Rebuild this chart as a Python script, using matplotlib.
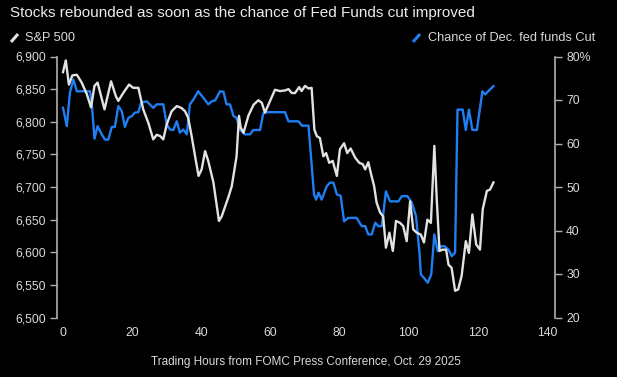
import matplotlib
matplotlib.use("Agg")
import matplotlib.pyplot as plt
from matplotlib.lines import Line2D

# ---- data ----
spx_x = [0, 0.8, 1.7, 2.7, 4, 5.4, 6.9, 8.1, 9.1, 10, 12, 13.9, 15.3, 16, 17.4, 19.1, 20.3,
         21.8, 23.2, 24.7, 26.1, 27.1, 28.1, 29, 30, 31.4, 32.9, 34.3, 35.3, 36.2, 37.2,
         38.2, 39.2, 40.1, 41.1, 42, 43.5, 45.1, 45.9, 47.8, 48.8, 50.2, 50.9, 51.4, 52.2,
         53.6, 55.1, 56.5, 57.5, 58.4, 59.4, 61.3, 62.8, 64.2, 65.2, 66.2, 67.1, 68.3, 69,
         70, 71, 71.9, 72.7, 73.4, 74.3, 75.3, 76.1, 77, 78, 79.2, 80.1, 81.3, 82.2, 83.2,
         84.5, 85.7, 86.7, 87.4, 88.3, 89, 90, 90.7, 91.7, 92.6, 93.4, 94.4, 95.4, 96.3,
         97.5, 98.4, 99.4, 100.4, 101.3, 102.3, 103.5, 104.4, 105.4, 106.4, 107.4, 108.1,
         108.9, 109.8, 110.8, 111.5, 112.4, 113.4, 114.3, 115.3, 116.5, 117.4, 118.4, 119.5,
         120.6, 121.4, 122.6, 123.5, 124.5]
spx_y = [6876, 6894, 6857, 6871, 6872, 6860, 6842, 6822, 6855, 6860, 6819, 6862, 6839,
         6832, 6844, 6857, 6852, 6852, 6819, 6798, 6773, 6780, 6778, 6773, 6796, 6816,
         6824, 6821, 6816, 6806, 6778, 6747, 6717, 6727, 6755, 6740, 6707, 6648, 6655,
         6684, 6701, 6747, 6809, 6791, 6783, 6809, 6826, 6833, 6829, 6814, 6826, 6849,
         6847, 6848, 6850, 6844, 6844, 6853, 6847, 6855, 6851, 6852, 6788, 6778, 6775,
         6747, 6752, 6737, 6740, 6717, 6758, 6767, 6752, 6759, 6745, 6737, 6735, 6727,
         6738, 6722, 6701, 6676, 6661, 6655, 6607, 6630, 6602, 6648, 6645, 6640, 6617,
         6678, 6635, 6630, 6627, 6615, 6650, 6645, 6763, 6681, 6602, 6604, 6604, 6581,
         6576, 6541, 6543, 6564, 6617, 6599, 6658, 6612, 6604, 6666, 6694, 6696, 6707]

cut_x = [0, 1.1, 2, 3, 4, 5.4, 7.8, 8.3, 9.1, 10, 11.2, 12.1, 13.1, 14.1, 15, 16, 17,
         17.9, 18.9, 19.9, 20.8, 21.8, 22.6, 24.2, 26.1, 27.1, 29, 30, 31, 31.9, 32.9,
         33.8, 34.8, 35.8, 36.7, 37.7, 39.1, 40.6, 42, 43, 44, 45.4, 46.4, 47.3, 48.3,
         49.3, 50.2, 51.2, 52.6, 54.1, 55, 57, 57.9, 58.9, 64.2, 65.2, 68.1, 69.1, 71,
         72.6, 73.2, 73.9, 74.8, 76.3, 77.2, 78.2, 79.2, 80.3, 81.3, 82.5, 84.9, 86.4,
         87.4, 88.3, 89.3, 90.3, 91.2, 92.2, 93.4, 94.6, 97, 98, 99.6, 100.9, 102.1,
         103.1, 103.5, 104.4, 105.5, 106.5, 107.4, 108.4, 109.3, 110.3, 111.5, 112.4,
         113.4, 114.1, 115.6, 116.5, 117.4, 118.4, 119.7, 121.3, 122.1, 124.5]
cut_y = [68.2, 64.0, 71.7, 74.7, 72.0, 72.0, 72.0, 69.4, 61.1, 64.0, 62.1, 60.9, 60.9,
         63.8, 63.8, 68.6, 67.4, 63.8, 65.9, 66.3, 67.1, 67.2, 69.4, 69.7, 68.2, 69.0,
         69.0, 64.4, 63.2, 63.1, 65.1, 62.5, 63.2, 62.1, 69.0, 70.1, 72.0, 70.5, 69.0,
         69.7, 69.9, 72.0, 71.9, 69.0, 69.0, 66.3, 65.9, 63.2, 62.1, 62.1, 63.1, 63.1,
         66.9, 67.2, 67.2, 65.1, 65.1, 64.1, 64.1, 48.3, 47.1, 48.7, 47.1, 50.2, 51.0,
         51.0, 48.3, 48.0, 42.1, 42.9, 42.9, 41.0, 41.0, 39.1, 39.1, 41.8, 41.0, 41.0,
         49.0, 46.7, 46.7, 47.9, 47.9, 46.4, 43.3, 34.9, 29.9, 29.1, 28.0, 29.9, 39.1,
         35.2, 36.4, 36.4, 35.6, 34.1, 34.9, 67.8, 67.8, 63.1, 67.8, 63.1, 63.1, 72.0,
         71.3, 73.2]

x_ticks = [0, 20, 40, 60, 80, 100, 120, 140]
left_ticks = [6500, 6550, 6600, 6650, 6700, 6750, 6800, 6850, 6900]
left_labels = ["6,500", "6,550", "6,600", "6,650", "6,700", "6,750", "6,800", "6,850", "6,900"]
right_ticks = [20, 30, 40, 50, 60, 70, 80]
right_labels = ["20", "30", "40", "50", "60", "70", "80%"]

title = "Stocks rebounded as soon as the chance of Fed Funds cut improved"
legend_left = "S&P 500"
legend_right = "Chance of Dec. fed funds Cut"
xlabel = "Trading Hours from FOMC Press Conference, Oct. 29 2025"

# ---- style ----
plt.rcParams['font.family'] = ['Liberation Sans', 'DejaVu Sans']
BG = "#000000"
TXT = "#d9d9d9"
WHITE_LINE = "#e2e2e2"
BLUE = "#1f7ff2"
AXC = "#b0b0b0"

fig = plt.figure(figsize=(6.17, 3.77), dpi=100, facecolor=BG)
ax = fig.add_axes([57/617, 1-317.5/377, (555-57)/617, (317.5-56.5)/377])
ax2 = ax.twinx()
ax.set_facecolor(BG)

ax2.plot(cut_x, cut_y, color=BLUE, lw=1.7)
ax.plot(spx_x, spx_y, color=WHITE_LINE, lw=1.7)
ax.set_zorder(ax2.get_zorder() + 1)
ax.patch.set_visible(False)
fig.patch.set_facecolor(BG)

ax.set_xlim(-1.74, 142.3)
ax.set_ylim(6500, 6900)
ax2.set_ylim(20, 80)

for a in (ax, ax2):
    for s in ("top", "bottom"):
        a.spines[s].set_visible(False)
ax.spines["right"].set_visible(False)
ax2.spines["left"].set_visible(False)
ax.spines["left"].set_color(AXC)
ax2.spines["right"].set_color(AXC)
ax.spines["left"].set_linewidth(1.2)
ax2.spines["right"].set_linewidth(1.2)

ax.set_xticks(x_ticks)
ax.set_xticklabels([str(t) for t in x_ticks])
ax.set_yticks(left_ticks)
ax.set_yticklabels(left_labels)
ax2.set_yticks(right_ticks)
ax2.set_yticklabels(right_labels)

ax.tick_params(axis='x', length=0, pad=7, labelsize=8.8, labelcolor=TXT)
ax.tick_params(axis='y', length=5, width=1, color=AXC, pad=3, labelsize=8.8, labelcolor=TXT)
ax2.tick_params(axis='y', length=5, width=1, color=AXC, pad=3, labelsize=8.8, labelcolor=TXT)

ax.set_xlabel(xlabel, color=TXT, fontsize=8.5, labelpad=12)

fig.text(10/617, 1-13/377, title, color="#ececec", fontsize=11, va='center', ha='left')

# legend entries
l1 = Line2D([11/617, 18/617], [1-42/377, 1-34/377], transform=fig.transFigure,
            lw=2.2, color=WHITE_LINE, solid_capstyle='butt')
l2 = Line2D([413/617, 420/617], [1-42/377, 1-34/377], transform=fig.transFigure,
            lw=2.2, color=BLUE, solid_capstyle='butt')
fig.add_artist(l1)
fig.add_artist(l2)
fig.text(25/617, 1-38/377, legend_left, color=TXT, fontsize=9.2, va='center', ha='left')
fig.text(428/617, 1-38/377, legend_right, color=TXT, fontsize=9.2, va='center', ha='left')

fig.savefig("out.png", dpi=100, facecolor=BG)
